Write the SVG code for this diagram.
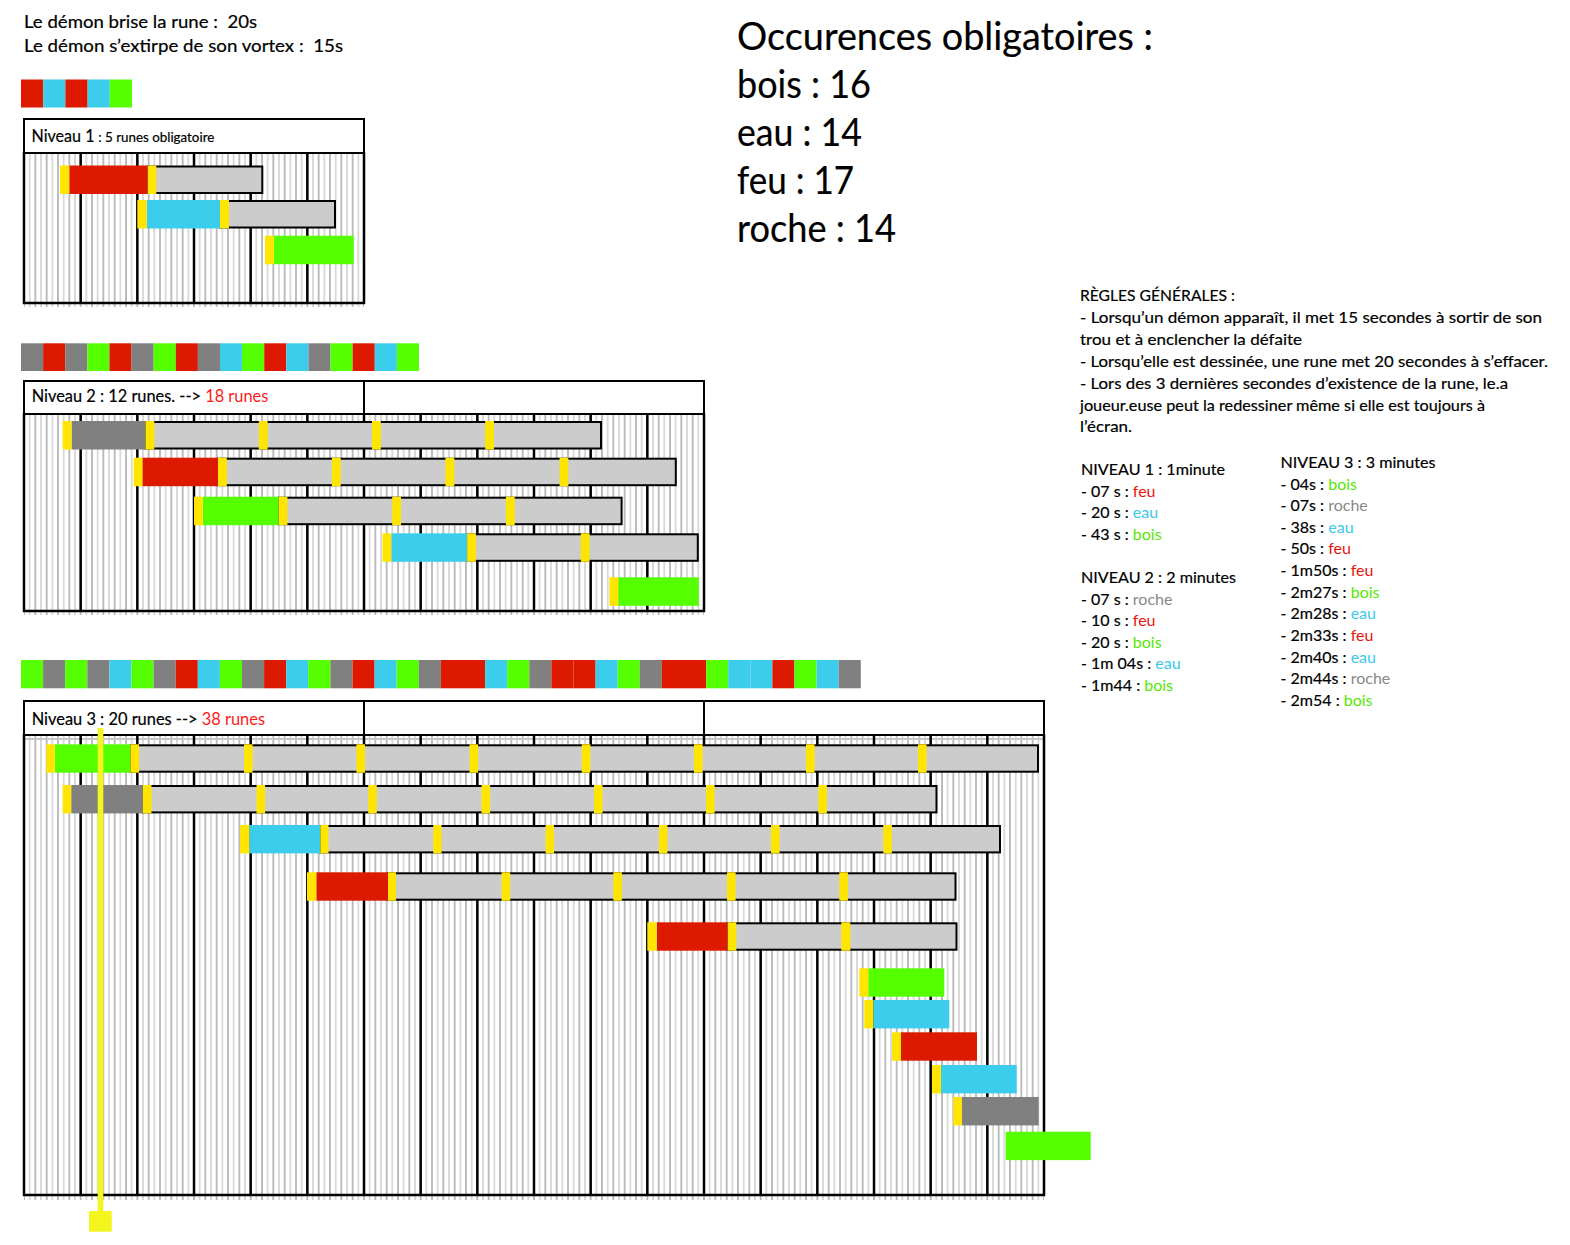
<svg xmlns="http://www.w3.org/2000/svg" width="1570" height="1245" viewBox="0 0 1570 1245">
<defs>
<style>
text{font-family:Lato,"Open Sans","Liberation Sans",sans-serif;fill:#000;stroke:#000;stroke-width:0.2}
tspan.tr,tspan.te,tspan.tb,tspan.tg,tspan.rr{stroke:none}
.bar{fill:#cccccc;stroke:#000;stroke-width:2}
.yl{fill:#ffe500}
.red{fill:#dd1a00}
.cyan{fill:#3ccdec}
.green{fill:#55ff00}
.gray{fill:#808080}
.hdr{fill:#fff;stroke:#000;stroke-width:2}
.maj{stroke:#000;stroke-width:2.5}
.tr{fill:#e8140c}
.te{fill:#3cc8ea}
.tb{fill:#55e800}
.tg{fill:#888888}
.rr{fill:#ff1a1a}
</style>
<pattern id="minor" patternUnits="userSpaceOnUse" x="21.1667" y="0" width="11.3333" height="20">
<rect x="2.08" y="0" width="1.5" height="20" fill="#a9a9a9"/>
<rect x="7.9" y="0" width="1.2" height="20" fill="#c4c4c4"/>
</pattern>
</defs>
<rect width="1570" height="1245" fill="#fff"/>

<g id="intro">
<text x="24" y="27.5" font-size="17.5" textLength="233" lengthAdjust="spacingAndGlyphs">Le démon brise la rune : &#160;20s</text>
<text x="24" y="51.5" font-size="17.5" textLength="319" lengthAdjust="spacingAndGlyphs">Le démon s’extirpe de son vortex : &#160;15s</text>
</g>

<g id="occurences">
<text x="737" y="50" font-size="39" textLength="416" lengthAdjust="spacingAndGlyphs">Occurences obligatoires :</text>
<text x="737" y="98" font-size="39" textLength="134" lengthAdjust="spacingAndGlyphs">bois : 16</text>
<text x="737" y="146" font-size="39" textLength="125" lengthAdjust="spacingAndGlyphs">eau : 14</text>
<text x="737" y="194" font-size="39" textLength="117" lengthAdjust="spacingAndGlyphs">feu : 17</text>
<text x="737" y="242" font-size="39" textLength="159" lengthAdjust="spacingAndGlyphs">roche : 14</text>
</g>

<g id="regles" font-size="16">
<text x="1080" y="301" textLength="155" lengthAdjust="spacingAndGlyphs">RÈGLES GÉNÉRALES :</text>
<text x="1080" y="323" textLength="462" lengthAdjust="spacingAndGlyphs">- Lorsqu’un démon apparaît, il met 15 secondes à sortir de son</text>
<text x="1080" y="345" textLength="222" lengthAdjust="spacingAndGlyphs">trou et à enclencher la défaite</text>
<text x="1080" y="367" textLength="468" lengthAdjust="spacingAndGlyphs">- Lorsqu’elle est dessinée, une rune met 20 secondes à s’effacer.</text>
<text x="1080" y="388.5" textLength="428" lengthAdjust="spacingAndGlyphs">- Lors des 3 dernières secondes d’existence de la rune, le.a</text>
<text x="1080" y="410.5" textLength="405" lengthAdjust="spacingAndGlyphs">joueur.euse peut la redessiner même si elle est toujours à</text>
<text x="1080" y="432" textLength="52" lengthAdjust="spacingAndGlyphs">l’écran.</text>
</g>

<g id="liste-niveau1" font-size="16">
<text x="1081" y="475" textLength="144" lengthAdjust="spacingAndGlyphs">NIVEAU 1 : 1minute</text>
<text x="1081" y="497">- 07 s : <tspan class="tr">feu</tspan></text>
<text x="1081" y="518">- 20 s : <tspan class="te">eau</tspan></text>
<text x="1081" y="539.5">- 43 s : <tspan class="tb">bois</tspan></text>
</g>
<g id="liste-niveau2" font-size="16">
<text x="1081" y="582.5" textLength="155" lengthAdjust="spacingAndGlyphs">NIVEAU 2 : 2 minutes</text>
<text x="1081" y="604.5">- 07 s : <tspan class="tg">roche</tspan></text>
<text x="1081" y="626">- 10 s : <tspan class="tr">feu</tspan></text>
<text x="1081" y="647.5">- 20 s : <tspan class="tb">bois</tspan></text>
<text x="1081" y="669">- 1m 04s : <tspan class="te">eau</tspan></text>
<text x="1081" y="691">- 1m44 : <tspan class="tb">bois</tspan></text>
</g>
<g id="liste-niveau3" font-size="16">
<text x="1280.5" y="467.5" textLength="155" lengthAdjust="spacingAndGlyphs">NIVEAU 3 : 3 minutes</text>
<text x="1280.5" y="489.5">- 04s : <tspan class="tb">bois</tspan></text>
<text x="1280.5" y="511">- 07s : <tspan class="tg">roche</tspan></text>
<text x="1280.5" y="532.5">- 38s : <tspan class="te">eau</tspan></text>
<text x="1280.5" y="554">- 50s : <tspan class="tr">feu</tspan></text>
<text x="1280.5" y="576">- 1m50s : <tspan class="tr">feu</tspan></text>
<text x="1280.5" y="598">- 2m27s : <tspan class="tb">bois</tspan></text>
<text x="1280.5" y="619">- 2m28s : <tspan class="te">eau</tspan></text>
<text x="1280.5" y="641">- 2m33s : <tspan class="tr">feu</tspan></text>
<text x="1280.5" y="662.5">- 2m40s : <tspan class="te">eau</tspan></text>
<text x="1280.5" y="684">- 2m44s : <tspan class="tg">roche</tspan></text>
<text x="1280.5" y="706">- 2m54 : <tspan class="tb">bois</tspan></text>
</g>

<g id="strip1">
<rect class="red" x="21" y="79.5" width="22.2" height="28"/>
<rect class="cyan" x="43.2" y="79.5" width="22.2" height="28"/>
<rect class="red" x="65.4" y="79.5" width="22.2" height="28"/>
<rect class="cyan" x="87.6" y="79.5" width="22.2" height="28"/>
<rect class="green" x="109.8" y="79.5" width="22.2" height="28"/>
</g>
<g id="strip2">
<rect class="gray" x="21" y="343.3" width="22.11" height="27.7"/>
<rect class="red" x="43.11" y="343.3" width="22.11" height="27.7"/>
<rect class="gray" x="65.22" y="343.3" width="22.11" height="27.7"/>
<rect class="green" x="87.33" y="343.3" width="22.11" height="27.7"/>
<rect class="red" x="109.44" y="343.3" width="22.11" height="27.7"/>
<rect class="gray" x="131.55" y="343.3" width="22.11" height="27.7"/>
<rect class="green" x="153.66" y="343.3" width="22.11" height="27.7"/>
<rect class="red" x="175.77" y="343.3" width="22.11" height="27.7"/>
<rect class="gray" x="197.88" y="343.3" width="22.11" height="27.7"/>
<rect class="cyan" x="219.99" y="343.3" width="22.11" height="27.7"/>
<rect class="green" x="242.1" y="343.3" width="22.11" height="27.7"/>
<rect class="red" x="264.21" y="343.3" width="22.11" height="27.7"/>
<rect class="cyan" x="286.32" y="343.3" width="22.11" height="27.7"/>
<rect class="gray" x="308.43" y="343.3" width="22.11" height="27.7"/>
<rect class="green" x="330.54" y="343.3" width="22.11" height="27.7"/>
<rect class="red" x="352.65" y="343.3" width="22.11" height="27.7"/>
<rect class="cyan" x="374.76" y="343.3" width="22.11" height="27.7"/>
<rect class="green" x="396.87" y="343.3" width="22.11" height="27.7"/>
</g>
<g id="strip3">
<rect class="green" x="21" y="660" width="22.1" height="28.3"/>
<rect class="gray" x="43.1" y="660" width="22.1" height="28.3"/>
<rect class="green" x="65.2" y="660" width="22.1" height="28.3"/>
<rect class="gray" x="87.3" y="660" width="22.1" height="28.3"/>
<rect class="cyan" x="109.4" y="660" width="22.1" height="28.3"/>
<rect class="green" x="131.5" y="660" width="22.1" height="28.3"/>
<rect class="gray" x="153.6" y="660" width="22.1" height="28.3"/>
<rect class="red" x="175.7" y="660" width="22.1" height="28.3"/>
<rect class="cyan" x="197.8" y="660" width="22.1" height="28.3"/>
<rect class="green" x="219.9" y="660" width="22.1" height="28.3"/>
<rect class="gray" x="242" y="660" width="22.1" height="28.3"/>
<rect class="red" x="264.1" y="660" width="22.1" height="28.3"/>
<rect class="cyan" x="286.2" y="660" width="22.1" height="28.3"/>
<rect class="green" x="308.3" y="660" width="22.1" height="28.3"/>
<rect class="gray" x="330.4" y="660" width="22.1" height="28.3"/>
<rect class="red" x="352.5" y="660" width="22.1" height="28.3"/>
<rect class="cyan" x="374.6" y="660" width="22.1" height="28.3"/>
<rect class="green" x="396.7" y="660" width="22.1" height="28.3"/>
<rect class="gray" x="418.8" y="660" width="22.1" height="28.3"/>
<rect class="red" x="440.9" y="660" width="22.1" height="28.3"/>
<rect class="red" x="463" y="660" width="22.1" height="28.3"/>
<rect class="cyan" x="485.1" y="660" width="22.1" height="28.3"/>
<rect class="green" x="507.2" y="660" width="22.1" height="28.3"/>
<rect class="gray" x="529.3" y="660" width="22.1" height="28.3"/>
<rect class="red" x="551.4" y="660" width="22.1" height="28.3"/>
<rect class="red" x="573.5" y="660" width="22.1" height="28.3"/>
<rect class="cyan" x="595.6" y="660" width="22.1" height="28.3"/>
<rect class="green" x="617.7" y="660" width="22.1" height="28.3"/>
<rect class="gray" x="639.8" y="660" width="22.1" height="28.3"/>
<rect class="red" x="661.9" y="660" width="22.1" height="28.3"/>
<rect class="red" x="684" y="660" width="22.1" height="28.3"/>
<rect class="green" x="706.1" y="660" width="22.1" height="28.3"/>
<rect class="cyan" x="728.2" y="660" width="22.1" height="28.3"/>
<rect class="cyan" x="750.3" y="660" width="22.1" height="28.3"/>
<rect class="red" x="772.4" y="660" width="22.1" height="28.3"/>
<rect class="green" x="794.5" y="660" width="22.1" height="28.3"/>
<rect class="cyan" x="816.6" y="660" width="22.1" height="28.3"/>
<rect class="gray" x="838.7" y="660" width="22.1" height="28.3"/>
</g>

<g id="niveau1">
<rect x="24" y="153" width="340" height="154" fill="url(#minor)"/>
<g class="maj">
<line x1="24" y1="152" x2="24" y2="304"/><line x1="80.67" y1="153" x2="80.67" y2="303"/><line x1="137.33" y1="153" x2="137.33" y2="303"/><line x1="194" y1="153" x2="194" y2="303"/><line x1="250.67" y1="153" x2="250.67" y2="303"/><line x1="307.33" y1="153" x2="307.33" y2="303"/><line x1="364" y1="152" x2="364" y2="304"/>
<line x1="23" y1="303" x2="365" y2="303"/>
</g>
<rect class="hdr" x="24" y="119" width="340" height="34"/>
<text x="31.5" y="141.7" font-size="17" textLength="63" lengthAdjust="spacingAndGlyphs">Niveau 1</text>
<text x="98.3" y="141.7" font-size="12.5" textLength="116" lengthAdjust="spacingAndGlyphs">: 5 runes obligatoire</text>
<g id="n1-r1">
<rect class="bar" x="147.7" y="166.5" width="114.6" height="26.5"/>
<rect class="red" x="69.3" y="165.5" width="78.4" height="28.5"/>
<rect class="yl" x="60" y="165.5" width="9.3" height="28.5"/><rect class="yl" x="147.7" y="165.5" width="8.6" height="28.5"/>
</g>
<g id="n1-r2">
<rect class="bar" x="220" y="201" width="115" height="26.5"/>
<rect class="cyan" x="146.7" y="200" width="73.3" height="28.5"/>
<rect class="yl" x="137.3" y="200" width="9.4" height="28.5"/><rect class="yl" x="220" y="200" width="9" height="28.5"/>
</g>
<g id="n1-r3">
<rect class="green" x="274" y="235.7" width="79.7" height="28.5"/>
<rect class="yl" x="265" y="235.7" width="9" height="28.5"/>
</g>
</g>

<g id="niveau2">
<rect x="24" y="414" width="680" height="201" fill="url(#minor)"/>
<g class="maj">
<line x1="24" y1="413" x2="24" y2="612"/><line x1="80.67" y1="414" x2="80.67" y2="611"/><line x1="137.33" y1="414" x2="137.33" y2="611"/><line x1="194" y1="414" x2="194" y2="611"/><line x1="250.67" y1="414" x2="250.67" y2="611"/><line x1="307.33" y1="414" x2="307.33" y2="611"/><line x1="364" y1="414" x2="364" y2="611"/><line x1="420.67" y1="414" x2="420.67" y2="611"/><line x1="477.33" y1="414" x2="477.33" y2="611"/><line x1="534" y1="414" x2="534" y2="611"/><line x1="590.67" y1="414" x2="590.67" y2="611"/><line x1="647.33" y1="414" x2="647.33" y2="611"/><line x1="704" y1="413" x2="704" y2="612"/>
<line x1="23" y1="611" x2="705" y2="611"/>
</g>
<rect class="hdr" x="24" y="381" width="680" height="33"/>
<line class="maj" x1="364" y1="381" x2="364" y2="414" style="stroke-width:2"/>
<text x="31.7" y="401.7" font-size="16.5" textLength="236.6" lengthAdjust="spacingAndGlyphs">Niveau 2 : 12 runes. --&gt; <tspan class="rr">18 runes</tspan></text>
<g id="n2-r1">
<rect class="bar" x="145.5" y="422" width="455.5" height="26.5"/>
<rect class="gray" x="71.5" y="421" width="74" height="28.5"/>
<rect class="yl" x="62.7" y="421" width="8.8" height="28.5"/><rect class="yl" x="145.5" y="421" width="8.8" height="28.5"/>
<rect class="yl" x="258.8" y="421" width="8.8" height="28.5"/><rect class="yl" x="372" y="421" width="8.8" height="28.5"/><rect class="yl" x="485.2" y="421" width="8.8" height="28.5"/>
</g>
<g id="n2-r2">
<rect class="bar" x="218" y="458.7" width="457.8" height="26.5"/>
<rect class="red" x="142.4" y="457.7" width="75.6" height="28.5"/>
<rect class="yl" x="133.6" y="457.7" width="8.8" height="28.5"/><rect class="yl" x="218" y="457.7" width="8.8" height="28.5"/>
<rect class="yl" x="331.9" y="457.7" width="8.8" height="28.5"/><rect class="yl" x="445.5" y="457.7" width="8.8" height="28.5"/><rect class="yl" x="559.6" y="457.7" width="8.8" height="28.5"/>
</g>
<g id="n2-r3">
<rect class="bar" x="278.6" y="497.7" width="343" height="26.5"/>
<rect class="green" x="202.8" y="496.7" width="75.8" height="28.5"/>
<rect class="yl" x="194" y="496.7" width="8.8" height="28.5"/><rect class="yl" x="278.6" y="496.7" width="8.8" height="28.5"/>
<rect class="yl" x="392.2" y="496.7" width="8.8" height="28.5"/><rect class="yl" x="505.9" y="496.7" width="8.8" height="28.5"/>
</g>
<g id="n2-r4">
<rect class="bar" x="467.1" y="534.3" width="230.7" height="26.5"/>
<rect class="cyan" x="391.3" y="533.3" width="75.8" height="28.5"/>
<rect class="yl" x="382.5" y="533.3" width="8.8" height="28.5"/><rect class="yl" x="467.1" y="533.3" width="8.8" height="28.5"/>
<rect class="yl" x="580.8" y="533.3" width="8.8" height="28.5"/>
</g>
<g id="n2-r5">
<rect class="green" x="618.2" y="577.3" width="80.6" height="28.5"/>
<rect class="yl" x="609.4" y="577.3" width="8.8" height="28.5"/>
</g>
</g>

<g id="niveau3">
<rect x="24" y="735" width="1020" height="465" fill="url(#minor)"/>
<line x1="25" y1="739" x2="1043" y2="739" stroke="#c8c8c8" stroke-width="2"/>
<g class="maj">
<line x1="24" y1="734" x2="24" y2="1196"/><line x1="80.67" y1="735" x2="80.67" y2="1195"/><line x1="137.33" y1="735" x2="137.33" y2="1195"/><line x1="194" y1="735" x2="194" y2="1195"/><line x1="250.67" y1="735" x2="250.67" y2="1195"/><line x1="307.33" y1="735" x2="307.33" y2="1195"/><line x1="364" y1="735" x2="364" y2="1195"/><line x1="420.67" y1="735" x2="420.67" y2="1195"/><line x1="477.33" y1="735" x2="477.33" y2="1195"/><line x1="534" y1="735" x2="534" y2="1195"/><line x1="590.67" y1="735" x2="590.67" y2="1195"/><line x1="647.33" y1="735" x2="647.33" y2="1195"/><line x1="704" y1="735" x2="704" y2="1195"/><line x1="760.67" y1="735" x2="760.67" y2="1195"/><line x1="817.33" y1="735" x2="817.33" y2="1195"/><line x1="874" y1="735" x2="874" y2="1195"/><line x1="930.67" y1="735" x2="930.67" y2="1195"/><line x1="987.33" y1="735" x2="987.33" y2="1195"/><line x1="1044" y1="734" x2="1044" y2="1196"/>
<line x1="23" y1="1195" x2="1045" y2="1195"/>
</g>
<rect class="hdr" x="24" y="701" width="1020" height="34"/>
<line class="maj" x1="364" y1="701" x2="364" y2="735" style="stroke-width:2"/>
<line class="maj" x1="704" y1="701" x2="704" y2="735" style="stroke-width:2"/>
<text x="31.7" y="725" font-size="16.5" textLength="233.3" lengthAdjust="spacingAndGlyphs">Niveau 3 : 20 runes --&gt; <tspan class="rr">38 runes</tspan></text>
<g id="n3-r1">
<rect class="bar" x="130.4" y="745.3" width="907.6" height="26.4"/>
<rect class="green" x="54.8" y="744.3" width="75.6" height="28.4"/>
<rect class="yl" x="46.3" y="744.3" width="8.5" height="28.4"/><rect class="yl" x="130.4" y="744.3" width="8.6" height="28.4"/>
<rect class="yl" x="244" y="744.3" width="8.6" height="28.4"/><rect class="yl" x="356.4" y="744.3" width="8.6" height="28.4"/><rect class="yl" x="469.5" y="744.3" width="8.6" height="28.4"/><rect class="yl" x="581.8" y="744.3" width="8.6" height="28.4"/><rect class="yl" x="694" y="744.3" width="8.6" height="28.4"/><rect class="yl" x="806" y="744.3" width="8.6" height="28.4"/><rect class="yl" x="918" y="744.3" width="8.6" height="28.4"/>
</g>
<g id="n3-r2">
<rect class="bar" x="142.9" y="786" width="793.6" height="26.4"/>
<rect class="gray" x="71.2" y="785" width="71.7" height="28.4"/>
<rect class="yl" x="62.7" y="785" width="8.5" height="28.4"/><rect class="yl" x="142.9" y="785" width="8.6" height="28.4"/>
<rect class="yl" x="256.5" y="785" width="8.6" height="28.4"/><rect class="yl" x="368.2" y="785" width="8.6" height="28.4"/><rect class="yl" x="481.5" y="785" width="8.6" height="28.4"/><rect class="yl" x="594" y="785" width="8.6" height="28.4"/><rect class="yl" x="706" y="785" width="8.6" height="28.4"/><rect class="yl" x="818.3" y="785" width="8.6" height="28.4"/>
</g>
<g id="n3-r3">
<rect class="bar" x="320.3" y="826" width="679.7" height="26.4"/>
<rect class="cyan" x="249.3" y="825" width="71" height="28.4"/>
<rect class="yl" x="240" y="825" width="9.3" height="28.4"/><rect class="yl" x="320.3" y="825" width="8.2" height="28.4"/>
<rect class="yl" x="433.3" y="825" width="8.2" height="28.4"/><rect class="yl" x="545.6" y="825" width="8.4" height="28.4"/><rect class="yl" x="659" y="825" width="8.4" height="28.4"/><rect class="yl" x="771" y="825" width="8.6" height="28.4"/><rect class="yl" x="883.3" y="825" width="8.6" height="28.4"/>
</g>
<g id="n3-r4">
<rect class="bar" x="388" y="873.3" width="567.5" height="26.4"/>
<rect class="red" x="316.3" y="872.3" width="71.7" height="28.4"/>
<rect class="yl" x="307" y="872.3" width="9.3" height="28.4"/><rect class="yl" x="388" y="872.3" width="8" height="28.4"/>
<rect class="yl" x="501.6" y="872.3" width="8.6" height="28.4"/><rect class="yl" x="613.3" y="872.3" width="8.6" height="28.4"/><rect class="yl" x="727" y="872.3" width="8.6" height="28.4"/><rect class="yl" x="839.3" y="872.3" width="8.6" height="28.4"/>
</g>
<g id="n3-r5">
<rect class="bar" x="727.7" y="923.3" width="228.8" height="26.4"/>
<rect class="red" x="656.7" y="922.3" width="71" height="28.4"/>
<rect class="yl" x="647.3" y="922.3" width="9.4" height="28.4"/><rect class="yl" x="727.7" y="922.3" width="8.6" height="28.4"/>
<rect class="yl" x="841.3" y="922.3" width="9" height="28.4"/>
</g>
<g id="n3-r6"><rect class="green" x="868.3" y="968.3" width="76" height="28.4"/><rect class="yl" x="859.3" y="968.3" width="9" height="28.4"/></g>
<g id="n3-r7"><rect class="cyan" x="873.3" y="1000" width="76" height="28.4"/><rect class="yl" x="864.3" y="1000" width="9" height="28.4"/></g>
<g id="n3-r8"><rect class="red" x="901" y="1032.3" width="76" height="28.4"/><rect class="yl" x="892" y="1032.3" width="9" height="28.4"/></g>
<g id="n3-r9"><rect class="cyan" x="941" y="1065" width="75.7" height="28.4"/><rect class="yl" x="932" y="1065" width="9" height="28.4"/></g>
<g id="n3-r10"><rect class="gray" x="962" y="1097" width="76.7" height="28.4"/><rect class="yl" x="953.3" y="1097" width="8.7" height="28.4"/></g>
<g id="n3-r11"><rect class="green" x="1005.7" y="1131.7" width="85" height="28.4"/></g>
<g id="curseur">
<rect x="97.7" y="728" width="5.6" height="484" fill="#f3f51c"/>
<rect x="89" y="1211" width="22.7" height="20.7" fill="#f3f51c"/>
</g>
</g>
</svg>
